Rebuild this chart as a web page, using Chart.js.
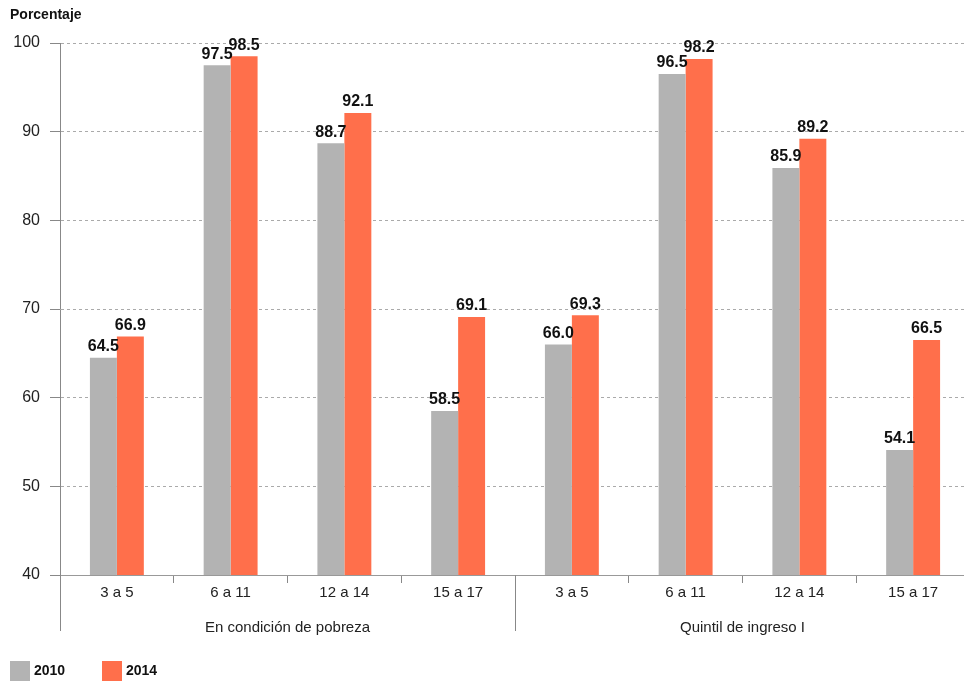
<!DOCTYPE html>
<html>
<head>
<meta charset="utf-8">
<script src="https://cdn.jsdelivr.net/npm/chart.js@4.4.1/dist/chart.umd.min.js"></script>
<style>
  html, body { margin: 0; padding: 0; background: #fff; overflow: hidden; }
  canvas { display: block; }
</style>
</head>
<body>
<canvas id="grafica" width="970" height="684"></canvas>
<script>
// ---------- Datos ----------
const categorias = ['3 a 5', '6 a 11', '12 a 14', '15 a 17', '3 a 5', '6 a 11', '12 a 14', '15 a 17'];
const grupos = ['En condición de pobreza', 'Quintil de ingreso I'];
const serie2010 = [64.5, 97.5, 88.7, 58.5, 66.0, 96.5, 85.9, 54.1];
const serie2014 = [66.9, 98.5, 92.1, 69.1, 69.3, 98.2, 89.2, 66.5];
const ticksY = [40, 50, 60, 70, 80, 90, 100];
const tituloY = 'Porcentaje';

const FUENTE = '"Liberation Sans", Arial, sans-serif';
const GRIS = '#b3b3b3';
const NARANJA = '#ff6f4b';

// ---------- Plugin: etiquetas, grupos y leyenda ----------
const extras = {
  id: 'extras',
  afterDraw(chart) {
    const ctx = chart.ctx;
    const area = chart.chartArea;
    const x = chart.scales.x;

    ctx.save();

    // valores sobre las barras
    ctx.fillStyle = '#111';
    ctx.font = 'bold 16px ' + FUENTE;
    ctx.textAlign = 'center';
    ctx.textBaseline = 'bottom';
    chart.data.datasets.forEach((ds, i) => {
      chart.getDatasetMeta(i).data.forEach((bar, j) => {
        ctx.fillText(ds.data[j].toFixed(1), bar.x, bar.y - 3);
      });
    });

    // separadores de grupo
    const porGrupo = categorias.length / grupos.length;
    ctx.strokeStyle = '#888';
    ctx.lineWidth = 1;
    for (let g = 0; g < grupos.length; g++) {
      const ini = g * porGrupo;
      const fin = ini + porGrupo - 1;
      const izq = g === 0 ? area.left : (x.getPixelForValue(ini - 1) + x.getPixelForValue(ini)) / 2;
      ctx.beginPath();
      ctx.moveTo(Math.round(izq) + 0.5, area.bottom);
      ctx.lineTo(Math.round(izq) + 0.5, 631);
      ctx.stroke();

      const centro = (x.getPixelForValue(ini) + x.getPixelForValue(fin)) / 2;
      ctx.fillStyle = '#222';
      ctx.font = '15px ' + FUENTE;
      ctx.textBaseline = 'middle';
      ctx.fillText(grupos[g], centro, 628);
    }

    // título del eje
    ctx.fillStyle = '#111';
    ctx.font = 'bold 14px ' + FUENTE;
    ctx.textAlign = 'left';
    ctx.fillText(tituloY, 10, 15);

    // leyenda
    let lx = 10;
    chart.data.datasets.forEach(ds => {
      ctx.fillStyle = ds.backgroundColor;
      ctx.fillRect(lx, 661, 20, 20);
      ctx.fillStyle = '#111';
      ctx.font = 'bold 14px ' + FUENTE;
      ctx.fillText(ds.label, lx + 24, 671);
      lx += 92;
    });

    ctx.restore();
  }
};

// ---------- Gráfica ----------
const ctx = document.getElementById('grafica').getContext('2d');

new Chart(ctx, {
  type: 'bar',
  data: {
    labels: categorias,
    datasets: [
      { label: '2010', data: serie2010, backgroundColor: GRIS },
      { label: '2014', data: serie2014, backgroundColor: NARANJA }
    ]
  },
  options: {
    responsive: false,
    animation: false,
    layout: { padding: { top: 43, right: 0, bottom: 0, left: 0 } },
    datasets: {
      bar: { categoryPercentage: 0.474, barPercentage: 1 }
    },
    scales: {
      x: {
        afterFit: s => { s.height = 109; },
        grid: {
          drawOnChartArea: false,
          drawTicks: true,
          tickLength: 8,
          color: '#888'
        },
        border: { color: '#999' },
        ticks: {
          color: '#222',
          font: { family: FUENTE, size: 15 },
          padding: 1,
          autoSkip: false,
          maxRotation: 0
        }
      },
      y: {
        min: 40,
        max: 100,
        afterFit: s => { s.width = 60; },
        afterBuildTicks: s => { s.ticks = ticksY.map(v => ({ value: v })); },
        grid: {
          color: '#aaa',
          tickBorderDash: [],
          tickColor: '#888',
          tickLength: 10
        },
        border: { color: '#888', dash: [3, 3] },
        ticks: {
          color: '#222',
          font: { family: FUENTE, size: 16 },
          padding: 10
        }
      }
    },
    plugins: {
      legend: { display: false },
      tooltip: { enabled: false }
    }
  },
  plugins: [extras]
});
</script>
</body>
</html>
